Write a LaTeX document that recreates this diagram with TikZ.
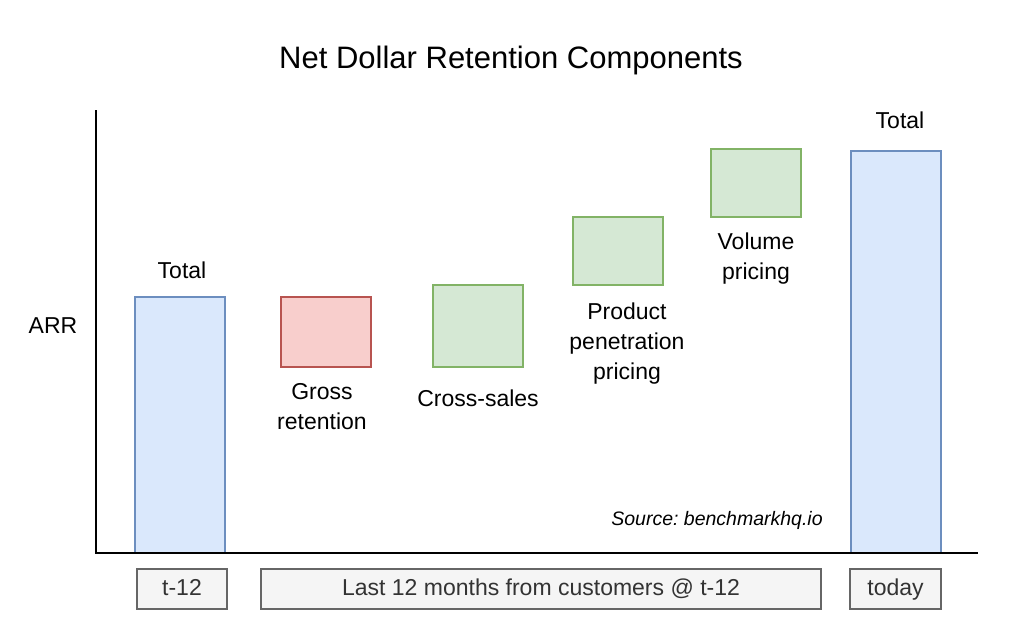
\documentclass[tikz,border=0pt]{standalone}
\usepackage{fontspec}
\setmainfont{Liberation Sans}
\usepackage{xcolor}
\definecolor{barfill}{HTML}{DAE8FC}
\definecolor{barline}{HTML}{6C8EBF}
\definecolor{lossfill}{HTML}{F8CECC}
\definecolor{lossline}{HTML}{B85450}
\definecolor{gainfill}{HTML}{D5E8D4}
\definecolor{gainline}{HTML}{82B366}
\definecolor{perfill}{HTML}{F5F5F5}
\definecolor{perline}{HTML}{666666}
\frenchspacing
\tikzset{
	box/.style={inner sep=0pt, minimum width=90pt, line width=1.5pt},
	bar/.style={box, draw=barline, fill=barfill},
	loss/.style={box, draw=lossline, fill=lossfill},
	gain/.style={box, draw=gainline, fill=gainfill},
	period/.style={draw=perline, fill=perfill, line width=1.5pt, inner sep=0pt, minimum height=40pt, text height=17pt, text depth=5pt, text=black!80, font=\fontsize{23}{26}\selectfont},
	lbl/.style={align=center, inner sep=0pt, font=\fontsize{23}{30}\selectfont}
}

\begin{document}
\begin{tikzpicture}[x=1pt, y=-1pt]
	\useasboundingbox (0,0) rectangle (1018,626);
	\node[font=\fontsize{31}{36}\selectfont] (title) at (511,60) {Net Dollar Retention Components};

	% axes
	\coordinate (ytop) at (96,110);
	\coordinate (o) at (96,553);
	\coordinate (xend) at (978,553);
	\node[lbl] (arr) at (53,326) {ARR};

	% bars and components
	\node[bar, minimum height=256pt] (start) at (180,425) {};
	\node[loss, minimum height=70pt] (gross) at (326,332) {};
	\node[gain, minimum height=82pt] (cross) at (478,326) {};
	\node[gain, minimum height=68pt] (prod) at (618,251) {};
	\node[gain, minimum height=68pt] (vol) at (756,183) {};
	\node[bar, minimum height=402pt] (end) at (896,352) {};
	\draw[line width=2pt] (ytop) -- (o) -- (xend);

	\node[lbl] (starttxt) at (182,270) {Total};
	\node[lbl] (grosstxt) at (322,407) {Gross\\retention};
	\node[lbl] (crosstxt) at (478,398) {Cross-sales};
	\node[lbl] (prodtxt) at (627,344) {Product\\penetration\\pricing};
	\node[lbl] (voltxt) at (756,259) {Volume\\pricing};
	\node[lbl] (endtxt) at (900,120) {Total};
	\node[font=\fontsize{19.5}{22}\selectfont\itshape] (src) at (717,520) {Source: benchmarkhq.io};

	% periods
	\node[period, minimum width=90pt] (t12) at (182,589) {t-12};
	\node[period, minimum width=560pt] (last) at (541,589) {Last 12 months from customers @ t-12};
	\node[period, minimum width=91pt] (today) at (895.5,589) {today};
\end{tikzpicture}
\end{document}
